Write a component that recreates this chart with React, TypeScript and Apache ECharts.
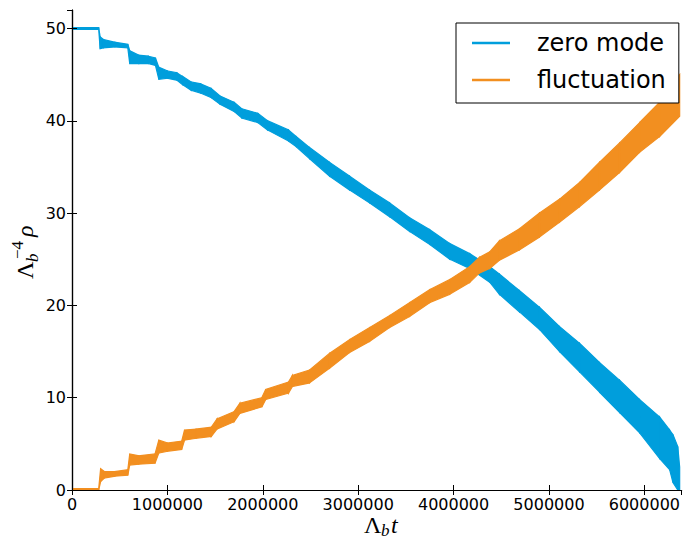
import React, { useEffect, useRef } from "react";
import * as echarts from "echarts";

// zero mode: time, lower and upper edge of the noisy band
const ZM_T = [0, 280000, 295000, 330000, 450000, 585000, 605000, 700000, 800000, 875000,
  910000, 1000000, 1100000, 1160000, 1250000, 1350000, 1460000, 1550000, 1700000, 1780000,
  1950000, 2050000, 2270000, 2350000, 2490000, 2700000, 2910000, 3120000, 3330000, 3540000,
  3750000, 3960000, 4170000, 4380000, 4480000, 4690000, 4900000, 5110000, 5320000, 5530000,
  5740000, 5950000, 6160000, 6265000, 6300000, 6350000, 6370000];
const ZM_LO = [49.9, 49.9, 47.8, 47.9, 48.0, 47.9, 46.2, 46.2, 46.2, 46.0,
  44.5, 44.6, 44.4, 43.9, 43.3, 43.0, 42.5, 41.8, 41.0, 40.3,
  39.8, 39.0, 37.8, 37.2, 35.9, 34.0, 32.5, 31.1, 29.6, 28.0,
  26.6, 25.0, 24.0, 22.5, 21.2, 19.3, 17.4, 15.0, 12.8, 10.6,
  8.4, 6.2, 3.4, 2.2, 0.8, 0, 0];
const ZM_HI = [50.1, 50.1, 49.1, 48.8, 48.5, 48.3, 47.6, 47.1, 47.0, 46.8,
  45.8, 45.4, 45.2, 44.8, 44.2, 44.0, 43.5, 42.7, 42.0, 41.3,
  40.8, 40.0, 39.0, 38.3, 37.1, 35.5, 34.0, 32.5, 31.1, 29.5,
  28.2, 26.7, 25.6, 24.2, 23.4, 21.6, 19.8, 17.7, 15.9, 13.8,
  11.9, 9.8, 7.9, 6.5, 6.0, 4.7, 2.5];

// fluctuation: time, lower and upper edge of the noisy band
const FL_T = [0, 280000, 300000, 340000, 450000, 585000, 605000, 700000, 870000, 910000,
  1000000, 1150000, 1180000, 1300000, 1460000, 1520000, 1700000, 1760000, 1990000, 2030000,
  2270000, 2310000, 2490000, 2700000, 2910000, 3120000, 3330000, 3540000, 3750000, 3960000,
  4170000, 4270000, 4380000, 4480000, 4690000, 4900000, 5110000, 5320000, 5530000, 5740000,
  5950000, 6160000, 6370000];
const FL_LO = [0, 0, 0.9, 1.3, 1.5, 1.6, 2.7, 2.8, 2.9, 4.0,
  4.2, 4.4, 5.4, 5.6, 5.8, 6.6, 7.4, 8.3, 9.0, 9.8,
  10.5, 11.2, 11.6, 13.2, 14.9, 16.1, 17.6, 18.8, 20.3, 21.2,
  22.5, 23.5, 24.0, 24.9, 26.0, 27.4, 29.0, 30.7, 32.5, 34.4,
  36.6, 38.3, 40.5];
const FL_HI = [0.15, 0.15, 2.3, 2.0, 2.0, 2.2, 3.9, 3.7, 3.9, 5.4,
  5.1, 5.3, 6.5, 6.6, 6.8, 7.7, 8.5, 9.4, 10.0, 10.9,
  11.7, 12.4, 13.0, 14.8, 16.3, 17.6, 18.9, 20.3, 21.7, 22.8,
  24.2, 25.2, 25.8, 27.0, 28.3, 30.0, 31.5, 33.3, 35.5, 37.6,
  39.8, 42.0, 45.0];

const SERIES_NAMES = ["zero mode", "fluctuation"];
const X_MIN = 0;
const X_MAX = 6390000;
const X_STEP = 1000000;
const Y_MIN = 0;
const Y_MAX = 52;
const Y_STEP = 10;

const BLUE = "#009edc";
const ORANGE = "#f28f20";

function bandSeries(name: string, T: number[], LO: number[], HI: number[], color: string) {
  return {
    type: "custom",
    name,
    itemStyle: { color },
    clip: true,
    encode: { x: 0, y: [1, 2] },
    data: T.map((t, i) => [t, LO[i], HI[i]]),
    renderItem: (params: any, api: any) => {
      const i = params.dataIndex;
      if (i >= T.length - 1) return null;
      const a = api.coord([api.value(0), api.value(1)]);
      const b = api.coord([api.value(0), api.value(2)]);
      const c = api.coord([T[i + 1], HI[i + 1]]);
      const d = api.coord([T[i + 1], LO[i + 1]]);
      return {
        type: "polygon",
        shape: { points: [a, b, c, d] },
        style: { fill: color, stroke: color, lineWidth: 1.2 },
      };
    },
  };
}

const SERIF = "'Liberation Serif', 'DejaVu Serif', serif";
const SANS = "'DejaVu Sans', sans-serif";

function mathText(x: number, y: number, text: string, size: number, italic: boolean) {
  return {
    type: "text",
    x,
    y: y - 0.34 * size,
    style: {
      text,
      fontSize: size,
      fontFamily: SERIF,
      fontStyle: italic ? "italic" : "normal",
      fill: "#000",
      align: "left",
      verticalAlign: "middle",
    },
  };
}

export default function App() {
  const ref = useRef<HTMLDivElement>(null);
  useEffect(() => {
    if (!ref.current) return;
    const chart = echarts.init(ref.current, undefined, { renderer: "svg" });
    const axisCommon = {
      type: "value",
      splitLine: { show: false },
      axisLine: { show: true, lineStyle: { color: "#000", width: 1.2 } },
      axisTick: { show: true, inside: true, length: 5, lineStyle: { color: "#000", width: 1 } },
    };
    const lineIcon = "path://M0 0H38V2.6H0Z";
    const plain = (v: number) => String(v);
    chart.setOption({
      animation: false,
      backgroundColor: "#fff",
      grid: { left: 72, right: 1, top: 10, bottom: 51 },
      xAxis: [
        {
          ...axisCommon,
          position: "bottom",
          min: X_MIN,
          max: X_MAX,
          interval: X_STEP,
          axisLabel: { show: true, fontSize: 16, lineHeight: 16, fontFamily: SANS, color: "#000", margin: 6, showMaxLabel: false, formatter: plain },
        },
        {
          ...axisCommon,
          position: "top",
          min: X_MIN,
          max: X_MAX,
          interval: X_STEP,
          axisLabel: { show: false },
        },
      ],
      yAxis: [
        {
          ...axisCommon,
          position: "left",
          z: 3,
          min: Y_MIN,
          max: Y_MAX,
          interval: Y_STEP,
          axisLabel: { show: true, fontSize: 16, fontFamily: SANS, color: "#000", margin: 6, showMaxLabel: false, formatter: plain },
        },
        {
          ...axisCommon,
          position: "right",
          min: Y_MIN,
          max: Y_MAX,
          interval: Y_STEP,
          axisLabel: { show: false },
        },
      ],
      legend: {
        orient: "vertical",
        left: 456,
        top: 23,
        backgroundColor: "#fff",
        borderColor: "#000",
        borderWidth: 1,
        borderRadius: 0,
        padding: [6, 13, 9, 16],
        itemWidth: 38,
        itemHeight: 28,
        itemGap: 9,
        selectedMode: false,
        textStyle: { fontSize: 24, fontFamily: SANS, color: "#000", lineHeight: 28, padding: [0, 0, 0, 22] },
        data: [
          { name: SERIES_NAMES[0], icon: lineIcon },
          { name: SERIES_NAMES[1], icon: lineIcon },
        ],
      },
      graphic: [
        {
          type: "group",
          x: 364,
          y: 533,
          children: [
            mathText(0, 0, "Λ", 24, false),
            mathText(17, 3.5, "b", 17, true),
            mathText(27, 0, "t", 24, true),
          ],
        },
        {
          type: "group",
          x: 33,
          y: 279,
          rotation: Math.PI / 2,
          children: [
            mathText(0, 0, "Λ", 24, false),
            mathText(17, 5, "b", 17, true),
            mathText(20, -10, "−4", 17, false),
            mathText(42, 0, "ρ", 24, true),
          ],
        },
      ],
      series: [
        bandSeries(SERIES_NAMES[0], ZM_T, ZM_LO, ZM_HI, BLUE),
        bandSeries(SERIES_NAMES[1], FL_T, FL_LO, FL_HI, ORANGE),
      ],
    });
    return () => chart.dispose();
  }, []);
  return (
    <div
      ref={ref}
      style={{ position: "fixed", left: 0, top: 0, width: 683, height: 541, background: "#fff" }}
    />
  );
}
